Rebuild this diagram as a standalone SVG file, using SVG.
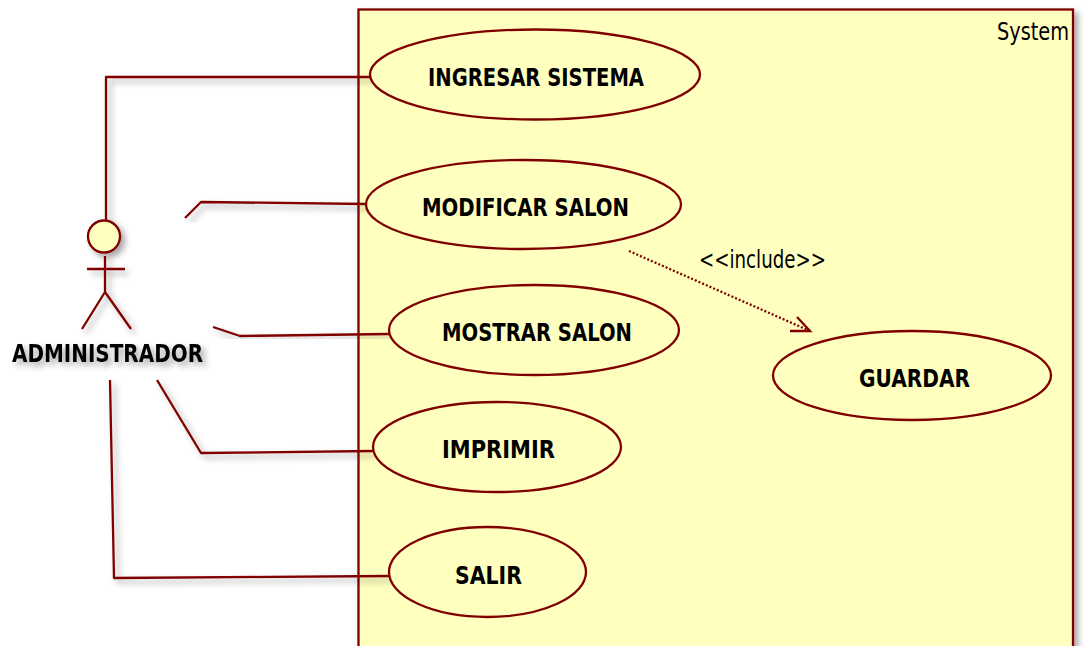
<svg xmlns="http://www.w3.org/2000/svg" width="1084" height="646" viewBox="0 0 1084 646">
<style>
.l{fill:none;stroke:#800000;stroke-width:2.3;stroke-linejoin:round}
.f{fill:#ffffc0;stroke:#800000;stroke-width:2.3}
.t{font-family:"DejaVu Sans",Verdana,sans-serif;font-weight:bold;font-size:24px;fill:#000;text-anchor:start}
.n{font-family:"DejaVu Sans",Verdana,sans-serif;font-size:25px;fill:#000}
.c{font-family:"DejaVu Sans",Verdana,sans-serif;font-stretch:condensed;font-size:24px;fill:#000}
</style>
<defs>
<filter id="s" x="-20%" y="-20%" width="150%" height="150%"><feDropShadow dx="4" dy="4" stdDeviation="3" flood-color="#000" flood-opacity="0.35"/></filter>
<marker id="arrow" markerUnits="userSpaceOnUse" markerWidth="26" markerHeight="24" refX="23" refY="15" orient="0" overflow="visible"><path d="M3 15H23L10 1" fill="none" stroke="#800000" stroke-width="2.3"/></marker>
</defs>
<rect id="system" class="f" x="358.5" y="9.5" width="714.5" height="660" filter="url(#s)"/>
<text class="c" x="997" y="40" textLength="72" lengthAdjust="spacingAndGlyphs">System</text>
<g id="connectors">
<path class="l" filter="url(#s)" d="M106 222V77H370"/>
<path class="l" filter="url(#s)" d="M185 218L201 202L366 204"/>
<path class="l" filter="url(#s)" d="M213 327L240 336L389 334"/>
<path class="l" filter="url(#s)" d="M157 380L201 453L373 451"/>
<path class="l" filter="url(#s)" d="M110 380L114 578L389 576"/>
<path class="l" stroke-dasharray="2 2" marker-end="url(#arrow)" d="M629 251L810 331"/>
<text class="n" x="699" y="268" textLength="127" lengthAdjust="spacingAndGlyphs">&lt;&lt;include&gt;&gt;</text>
</g>
<g id="actor-administrador">
<g filter="url(#s)">
<circle class="f" cx="104" cy="236.5" r="16"/>
<path class="l" d="M105 256V292M87 269H125M105 292L82 329M105 292L131 329"/>
</g>
<text class="t" x="12" y="362" textLength="191" lengthAdjust="spacingAndGlyphs" filter="url(#s)">ADMINISTRADOR</text>
</g>
<g id="uc-ingresar"><ellipse class="f" cx="535" cy="74.5" rx="165" ry="45"/><text class="t" x="428" y="86" textLength="216" lengthAdjust="spacingAndGlyphs">INGRESAR SISTEMA</text></g>
<g id="uc-modificar"><ellipse class="f" cx="523.5" cy="204.5" rx="157.5" ry="44.5"/><text class="t" x="422" y="216" textLength="207" lengthAdjust="spacingAndGlyphs">MODIFICAR SALON</text></g>
<g id="uc-mostrar"><ellipse class="f" cx="534" cy="330" rx="145" ry="45"/><text class="t" x="442" y="341" textLength="190" lengthAdjust="spacingAndGlyphs">MOSTRAR SALON</text></g>
<g id="uc-imprimir"><ellipse class="f" cx="497" cy="447" rx="124" ry="45"/><text class="t" x="442" y="458" textLength="113" lengthAdjust="spacingAndGlyphs">IMPRIMIR</text></g>
<g id="uc-salir"><ellipse class="f" cx="487.5" cy="572" rx="98.5" ry="45"/><text class="t" x="455" y="584" textLength="67" lengthAdjust="spacingAndGlyphs">SALIR</text></g>
<g id="uc-guardar"><ellipse class="f" cx="912" cy="375.5" rx="139" ry="44.5"/><text class="t" x="859" y="387" textLength="111" lengthAdjust="spacingAndGlyphs">GUARDAR</text></g>
</svg>
